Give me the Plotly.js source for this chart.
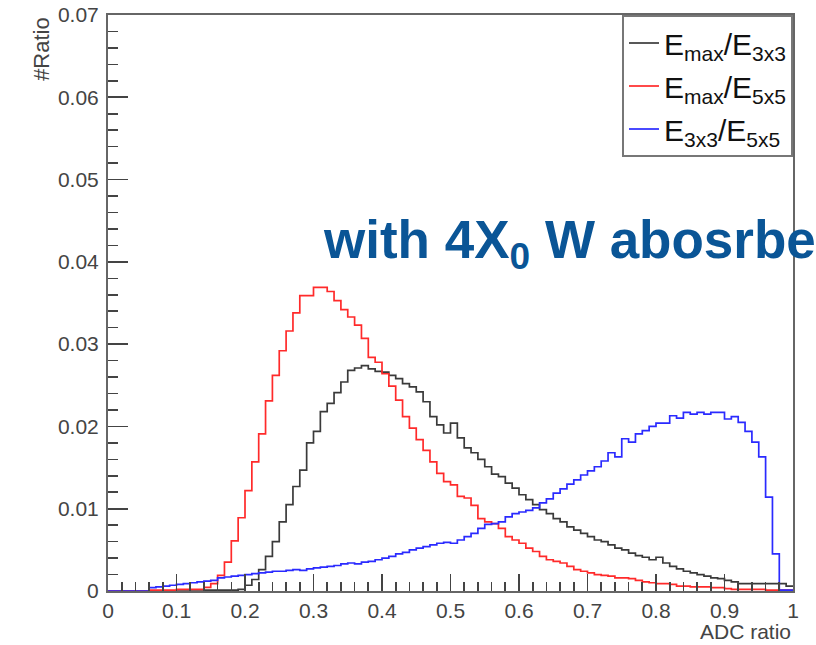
<!DOCTYPE html>
<html>
<head>
<meta charset="utf-8">
<script src="https://cdn.plot.ly/plotly-3.0.1.min.js"></script>
<style>
  html, body { margin: 0; padding: 0; background: #fff; }
  #chart { width: 816px; height: 645px; }
</style>
</head>
<body>
<div id="chart"></div>
<script>
// Histogram binning: 100 bins of width 0.01 on [0, 1]
const binStart = 0;
const binWidth = 0.01;

// Emax / E3x3 (black)
const emaxOverE3x3 = [
  0, 0, 0, 0, 0, 0, 0, 0, 0, 0,
  0, 0, 0, 0, 0.0001, 0.0001, 0.0001, 0.0001, 0.0001, 0.0002,
  0.0007, 0.0014, 0.0026, 0.0042, 0.0060, 0.0084, 0.0105, 0.0127, 0.0147, 0.0180,
  0.0194, 0.0218, 0.0228, 0.0241, 0.0254, 0.0268, 0.0271, 0.0274, 0.0270, 0.0267,
  0.0266, 0.0262, 0.0258, 0.0252, 0.0248, 0.0242, 0.0230, 0.0212, 0.0202, 0.0192,
  0.0204, 0.0186, 0.0174, 0.0168, 0.0160, 0.0151, 0.0142, 0.0139, 0.0131, 0.0125,
  0.0117, 0.0111, 0.0105, 0.0099, 0.0094, 0.0088, 0.0084, 0.0078, 0.0074, 0.0070,
  0.0066, 0.0062, 0.0060, 0.0056, 0.0052, 0.0050, 0.0046, 0.0043, 0.0041, 0.0038,
  0.0041, 0.0034, 0.0030, 0.0027, 0.0024, 0.0022, 0.0020, 0.0018, 0.0016, 0.0015,
  0.0013, 0.0011, 0.0009, 0.0009, 0.0009, 0.0009, 0.0009, 0.0009, 0.0009, 0.0006
];

// Emax / E5x5 (red)
const emaxOverE5x5 = [
  0, 0, 0, 0, 0, 0, 0.0001, 0.0001, 0.0001, 0.0001,
  0.0002, 0.0002, 0.0002, 0.0002, 0.00045, 0.0009, 0.0019, 0.0035, 0.0061, 0.0089,
  0.0122, 0.0157, 0.0191, 0.0231, 0.0262, 0.0292, 0.0316, 0.0338, 0.0359, 0.0359,
  0.0369, 0.0369, 0.0364, 0.0353, 0.0342, 0.0333, 0.0323, 0.0307, 0.0284, 0.0278,
  0.0264, 0.0249, 0.0232, 0.0212, 0.0198, 0.0184, 0.0171, 0.0157, 0.0143, 0.0133,
  0.0129, 0.0115, 0.0113, 0.0104, 0.0088, 0.0084, 0.0082, 0.0076, 0.0066, 0.0062,
  0.0058, 0.0052, 0.0048, 0.0042, 0.0038, 0.0036, 0.0034, 0.0030, 0.0026, 0.0024,
  0.0022, 0.0020, 0.0019, 0.0018, 0.0016, 0.0016, 0.0015, 0.0013, 0.0011, 0.0010,
  0.0009, 0.0009, 0.0008, 0.0006, 0.0006, 0.0005, 0.0005, 0.0005, 0.0004, 0.0004,
  0.0003, 0.0002, 0.0002, 0.0002, 0.0002, 0.0002, 0.0001, 0.0001, 0.0001, 0.0001
];

// E3x3 / E5x5 (blue)
const e3x3OverE5x5 = [
  0, 0, 0, 0, 0, 0, 0.0004, 0.0005, 0.0006, 0.0007,
  0.0008, 0.0009, 0.0010, 0.0011, 0.0012, 0.0013, 0.0016, 0.0017, 0.0018, 0.0019,
  0.0020, 0.0021, 0.0022, 0.0023, 0.0024, 0.0024, 0.0025, 0.0026, 0.0025, 0.0027,
  0.0028, 0.0029, 0.0030, 0.0031, 0.0033, 0.0034, 0.0033, 0.0035, 0.0036, 0.0038,
  0.0040, 0.0042, 0.0045, 0.0047, 0.0050, 0.0052, 0.0054, 0.0056, 0.0058, 0.0059,
  0.0058, 0.0062, 0.0066, 0.0070, 0.0076, 0.0081, 0.0082, 0.0084, 0.0090, 0.0094,
  0.0096, 0.0098, 0.0101, 0.0107, 0.0112, 0.0119, 0.0124, 0.0130, 0.0135, 0.0141,
  0.0146, 0.0151, 0.0158, 0.0168, 0.0163, 0.0185, 0.0181, 0.0191, 0.0195, 0.0200,
  0.0204, 0.0204, 0.0213, 0.0210, 0.0217, 0.0215, 0.0217, 0.0215, 0.0217, 0.0217,
  0.0209, 0.0212, 0.0205, 0.0194, 0.0181, 0.0163, 0.0114, 0.0045, 0.0001, 0.0001
];

const seriesNames = [
  'E<sub>max</sub>/E<sub>3x3</sub>',
  'E<sub>max</sub>/E<sub>5x5</sub>',
  'E<sub>3x3</sub>/E<sub>5x5</sub>'
];
const seriesColors = ['#3a3a3a', '#ff2a2a', '#2a2aff'];

const xTitle = 'ADC ratio';
const yTitle = '#Ratio';
const noteText = '<b>with 4X<sub>0</sub> W abosrbe</b>';

// Step outline: left edge of every bin plus the closing right edge
function stepTrace(values, name, color, group) {
  const x = [], y = [];
  for (let i = 0; i < values.length; i++) {
    x.push(+(binStart + i * binWidth).toFixed(4));
    y.push(values[i]);
  }
  x.push(+(binStart + values.length * binWidth).toFixed(4));
  y.push(values[values.length - 1]);
  return {
    type: 'scatter', mode: 'lines', x: x, y: y, name: name,
    legendgroup: group,
    line: { shape: 'hv', color: color, width: 1.7 },
    hoverinfo: 'skip'
  };
}

const traces = [
  stepTrace(emaxOverE3x3, seriesNames[0], seriesColors[0], 'a'),
  stepTrace(emaxOverE5x5, seriesNames[1], seriesColors[1], 'b'),
  stepTrace(e3x3OverE5x5, seriesNames[2], seriesColors[2], 'c')
];

const fontFam = 'Liberation Sans, Arial, Helvetica, sans-serif';
const axisCommon = {
  showgrid: false, zeroline: false,
  showline: true, linecolor: '#666', linewidth: 2, mirror: true,
  ticks: 'inside', tickcolor: '#444', tickwidth: 1.6,
  tickfont: { family: fontFam, size: 21, color: '#444' },
  fixedrange: true
};

const layout = {
  width: 816, height: 645,
  margin: { l: 108, r: 23, t: 15, b: 54 },
  paper_bgcolor: '#fff', plot_bgcolor: '#fff',
  showlegend: true,
  xaxis: Object.assign({}, axisCommon, {
    range: [0, 1], tick0: 0, dtick: 0.1, ticklen: 17,
    minor: { dtick: 0.02, ticks: 'inside', ticklen: 9, tickcolor: '#444', tickwidth: 1.6, showgrid: false },
    ticklabelstandoff: 0
  }),
  yaxis: Object.assign({}, axisCommon, {
    range: [0, 0.07], tick0: 0, dtick: 0.01, ticklen: 20,
    minor: { dtick: 0.002, ticks: 'inside', ticklen: 10, tickcolor: '#444', tickwidth: 1.6, showgrid: false },
    ticklabelstandoff: 3
  }),
  legend: {
    x: 1, xanchor: 'right', y: 1, yanchor: 'top',
    bgcolor: '#fff', bordercolor: '#777', borderwidth: 2,
    font: { family: fontFam, size: 30, color: '#111' },
    tracegroupgap: 1,
    itemwidth: 30
  },
  annotations: [
    {
      xref: 'paper', yref: 'paper', x: -0.098, y: 1.0,
      xanchor: 'center', yanchor: 'top', textangle: -90,
      text: yTitle, showarrow: false,
      font: { family: fontFam, size: 22, color: '#444' }
    },
    {
      xref: 'paper', yref: 'paper', x: 1.0, y: -0.071,
      xanchor: 'right', yanchor: 'middle',
      text: xTitle, showarrow: false,
      font: { family: fontFam, size: 21, color: '#444' }
    },
    {
      xref: 'paper', yref: 'paper', x: (321 - 108) / 685, y: (591 - 243) / 576,
      xanchor: 'left', yanchor: 'middle',
      text: noteText, showarrow: false,
      font: { family: fontFam, size: 53, color: '#0a5596' }
    }
  ]
};

Plotly.newPlot('chart', traces, layout, { staticPlot: true, displayModeBar: false });
</script>
</body>
</html>
